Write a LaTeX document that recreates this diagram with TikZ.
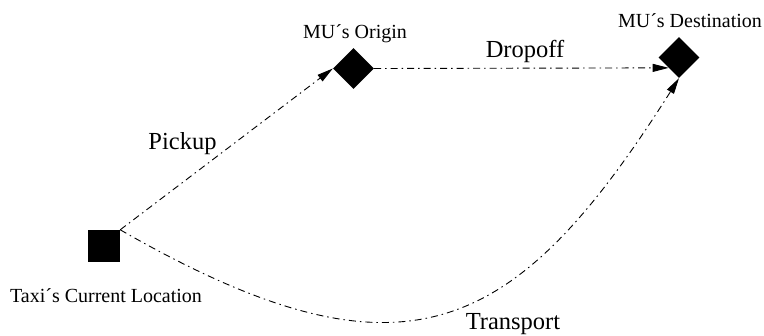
\documentclass[tikz,border=0pt]{standalone}
\usepackage{fontspec}
\setmainfont{Liberation Serif}
\usetikzlibrary{shapes.geometric,arrows.meta}
\begin{document}
\begin{tikzpicture}[x=1bp,y=-1bp,
  place/.style={fill=black,draw=none,inner sep=0pt},
  sqbox/.style={place,rectangle,minimum size=32bp},
  dia/.style={place,diamond,minimum width=41bp,minimum height=41bp},
  small/.style={font=\rmfamily\fontsize{20bp}{24bp}\selectfont,inner sep=0pt,anchor=base},
  big/.style={font=\rmfamily\fontsize{24.5bp}{29bp}\selectfont,inner sep=0pt,anchor=base},
  conn/.style={line width=0.9bp,dash pattern=on 7bp off 4bp on 1.5bp off 4bp,
    -{Triangle[length=16bp,width=8bp]}}]
\useasboundingbox (0,0) rectangle (764,335);
\node[sqbox] (taxi) at (104,246) {};
\node[dia] (orig) at (353.5,68.5) {};
\node[dia] (dest) at (679,57.5) {};
\node[small] (ltaxi) at (106,302) {Taxi´s Current Location};
\node[small] (lorig) at (355,38) {MU´s Origin};
\node[small] (ldest) at (690,27) {MU´s Destination};
\node[big] (lpick) at (182.5,149) {Pickup};
\node[big] (ldrop) at (525,57) {Dropoff};
\node[big] (ltrans) at (513,329) {Transport};
\draw[conn] (taxi.north east) -- (orig.west);
\draw[conn] (orig.east) -- (dest.south west);
\draw[conn] (taxi.north east) .. controls (405,393) and (515,337) .. (dest.south);
\end{tikzpicture}
\end{document}
